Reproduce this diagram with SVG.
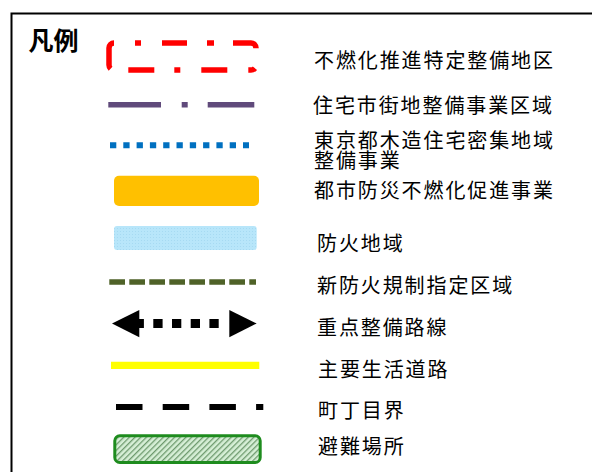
<svg xmlns="http://www.w3.org/2000/svg" width="592" height="472" viewBox="0 0 592 472">
<style>
.lbl{font-family:"Noto Sans CJK JP","Noto Sans CJK SC",sans-serif;font-size:20px;letter-spacing:1.9px;fill:#000}
.ttl{font-family:"Noto Sans CJK JP","Noto Sans CJK SC",sans-serif;font-size:25px;font-weight:bold;fill:#000}
</style>
<defs>
<pattern id="dotgrid" width="3" height="3" patternUnits="userSpaceOnUse">
<rect width="3" height="3" fill="#B8E6FA"/>
<rect width="1" height="1" fill="#A6DAF2"/>
</pattern>
<pattern id="hatch" width="4" height="4" patternUnits="userSpaceOnUse" patternTransform="rotate(45)">
<rect width="4" height="4" fill="#D6EFD6"/>
<rect width="1.3" height="4" fill="#6E9A6E"/>
</pattern>
</defs>
<rect width="592" height="472" fill="#fff"/>
<g id="frame">
<path d="M11.5 472 V13.5 H592" fill="none" stroke="#000" stroke-width="2"/>
</g>
<g id="title">
<text class="ttl" x="28.5" y="49.5">凡例</text>
</g>
<g id="legend-red">
<rect x="109" y="43" width="147" height="27" rx="5" fill="none" stroke="#FF0000" stroke-width="5.5" stroke-dasharray="0 21 6 21 25 20 7 19 26 20 7 21 26 21 6 20 26 18 30 10"/>
<text class="lbl" x="314" y="68.1">不燃化推進特定整備地区</text>
</g>
<g id="legend-purple">
<line x1="108.3" y1="104.7" x2="254.3" y2="104.7" stroke="#604A7B" stroke-width="5.5" stroke-dasharray="52.7 20.7 6 20"/>
<text class="lbl" x="313" y="112.9">住宅市街地整備事業区域</text>
</g>
<g id="legend-blue">
<line x1="110" y1="145.3" x2="249" y2="145.3" stroke="#0070C0" stroke-width="6" stroke-dasharray="6.3 7"/>
<text class="lbl" x="314" y="148.1">東京都木造住宅密集地域<tspan x="314" y="167.6">整備事業</tspan></text>
</g>
<g id="legend-orange">
<rect x="114" y="175.7" width="145" height="30.3" rx="5" fill="#FFC000"/>
<text class="lbl" x="314" y="198.4">都市防災不燃化促進事業</text>
</g>
<g id="legend-lightblue">
<rect x="114" y="226" width="142.7" height="24" rx="3" fill="url(#dotgrid)"/>
<text class="lbl" x="317" y="250.9">防火地域</text>
</g>
<g id="legend-olive">
<line x1="109.3" y1="282" x2="256" y2="282" stroke="#4F6228" stroke-width="5.3" stroke-dasharray="15.7 4.3"/>
<text class="lbl" x="317" y="293.4">新防火規制指定区域</text>
</g>
<g id="legend-arrow">
<line x1="134.6" y1="323.5" x2="219" y2="323.5" stroke="#000" stroke-width="9" stroke-dasharray="9.3 9.4"/>
<polygon points="112,323.5 139.3,310 139.3,337.2" fill="#000"/>
<polygon points="229.3,310 256.7,323.5 229.3,337.2" fill="#000"/>
<text class="lbl" x="317" y="335.1">重点整備路線</text>
</g>
<g id="legend-yellow">
<line x1="111" y1="365.3" x2="259.3" y2="365.3" stroke="#FFFF00" stroke-width="7.3"/>
<text class="lbl" x="318" y="376.6">主要生活道路</text>
</g>
<g id="legend-black">
<line x1="116" y1="407" x2="263.3" y2="407" stroke="#000" stroke-width="6" stroke-dasharray="26.5 20.2"/>
<text class="lbl" x="318" y="418.4">町丁目界</text>
</g>
<g id="legend-green">
<rect x="114.8" y="435.8" width="145.4" height="26.7" rx="5" fill="url(#hatch)" stroke="#1E8C1E" stroke-width="3"/>
<text class="lbl" x="318" y="454.3">避難場所</text>
</g>
</svg>
